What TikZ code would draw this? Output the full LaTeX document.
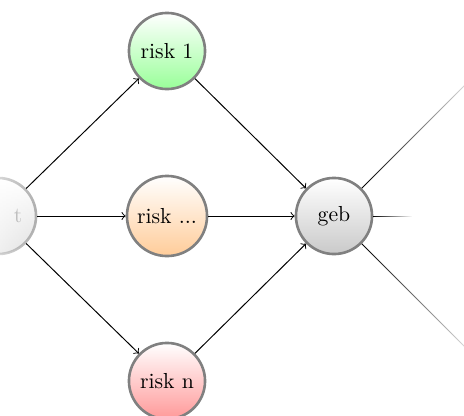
\documentclass[tikz,border=0pt]{standalone}
\usetikzlibrary{fadings}

% fadings for the outgoing edges of the last node
\tikzfading[name=fadeoutlong, left color=transparent!0, right color=transparent!88]
\tikzfading[name=fadeoutshort, left color=transparent!0, right color=transparent!100]

% fading for the start node: hidden on the left, fully visible at its right rim
\begin{tikzfadingfrompicture}[name=startfade]
  \fill[black] (-50bp,-50bp) rectangle (-25bp,50bp);
  \shade[left color=black, right color=white] (-25bp,-50bp) rectangle (35bp,50bp);
  \fill[white] (35bp,-50bp) rectangle (50bp,50bp);
\end{tikzfadingfrompicture}

\tikzset{
  riskbase/.style={circle, draw=gray, line width=1.2pt, minimum size=35pt,
    inner sep=3.33pt, font=\normalsize},
  riskgreen/.style={riskbase, top color=white, bottom color=green!40},
  riskorange/.style={riskbase, top color=white, bottom color=orange!40},
  riskred/.style={riskbase, top color=white, bottom color=red!40},
  riskgray/.style={riskbase, top color=white, bottom color=gray!42},
  flow/.style={->, line width=0.45pt},
}

\begin{document}
\begin{tikzpicture}[x=0.46pt, y=-0.46pt]
  \useasboundingbox (0,0) rectangle (464,416);
  \clip (0,0) rectangle (464,416);

  % faded start node on the left edge
  \node[riskbase, draw=gray!75, top color=white, bottom color=gray!30,
        path fading=startfade, fit fading=true] (t) at (-2,216) {};
  \node[text=black!25, inner sep=0pt] (tlabel) at (18,216) {t};

  % risk column
  \node[riskgreen]  (r1) at (167,51)  {risk 1};
  \node[riskorange] (rm) at (167,216) {risk ...};
  \node[riskred]    (rn) at (167,381) {risk n};

  % collecting node
  \node[riskgray] (geb) at (334,216) {geb};

  % edges into the risk column
  \draw[flow] (t) -- (r1);
  \draw[flow] (t) -- (rm);
  \draw[flow] (t) -- (rn);

  % edges into the collecting node
  \draw[flow] (r1) -- (geb);
  \draw[flow] (rm) -- (geb);
  \draw[flow] (rn) -- (geb);

  % outgoing edges, fading away
  \coordinate (o1) at (468,82);
  \coordinate (o2) at (412,216);
  \coordinate (o3) at (468,350);
  \draw[line width=0.45pt, path fading=fadeoutlong] (geb) -- (o1);
  \draw[line width=0.45pt, path fading=fadeoutshort] (geb) -- (o2);
  \draw[line width=0.45pt, path fading=fadeoutlong] (geb) -- (o3);
\end{tikzpicture}
\end{document}
